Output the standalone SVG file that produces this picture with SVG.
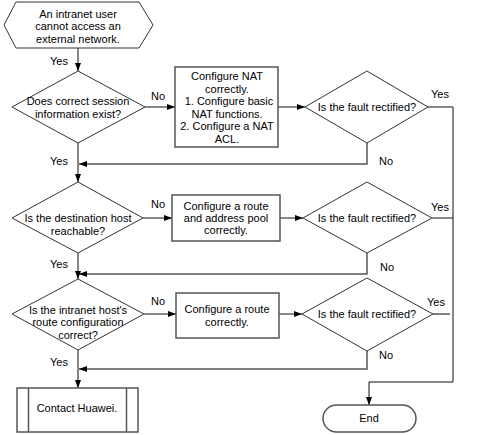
<svg xmlns="http://www.w3.org/2000/svg" width="480" height="435" viewBox="0 0 480 435">
<defs>
<marker id="ah" markerUnits="userSpaceOnUse" markerWidth="9" markerHeight="7" refX="8" refY="3.5" orient="auto">
<path d="M0,0.5 L8,3.5 L0,6.5 z" fill="#000"/>
</marker>
<style>
text{font-family:"Liberation Sans",Arial,sans-serif;font-size:11px;fill:#000;text-anchor:middle}
.sh{fill:#fff;stroke:#333;stroke-width:1}
.bx{fill:#fff;stroke:#555;stroke-width:1.5}
.ln{fill:none;stroke:#111;stroke-width:1}
.rt{fill:none;stroke:#555;stroke-width:1.5}
</style>
</defs>
<rect width="480" height="435" fill="#fff"/>
<g id="connectors">
<path class="ln" d="M78,48 V71" marker-end="url(#ah)"/>
<path class="ln" d="M145,107 H175" marker-end="url(#ah)"/>
<path class="ln" d="M278,107 H305" marker-end="url(#ah)"/>
<path class="ln" d="M428,107 H453 V382 H369 V405" marker-end="url(#ah)"/>
<path class="rt" d="M367,143 V164 H79" marker-end="url(#ah)"/>
<path class="ln" d="M78,143 V182" marker-end="url(#ah)"/>
<path class="ln" d="M143,218 H172" marker-end="url(#ah)"/>
<path class="ln" d="M280,218 H303" marker-end="url(#ah)"/>
<path class="ln" d="M432,218 H453"/>
<path class="rt" d="M367,253 V274 H79" marker-end="url(#ah)"/>
<path class="ln" d="M78,253 V279" marker-end="url(#ah)"/>
<path class="ln" d="M144,314 H176" marker-end="url(#ah)"/>
<path class="ln" d="M279,314 H302" marker-end="url(#ah)"/>
<path class="rt" d="M433,314 H450"/>
<path class="rt" d="M367,351 V369 H79" marker-end="url(#ah)"/>
<path class="ln" d="M78,350 V388" marker-end="url(#ah)"/>
<text x="59" y="65">Yes</text>
<text x="158" y="100">No</text>
<text x="440" y="97.5">Yes</text>
<text x="386" y="164.5">No</text>
<text x="59" y="164.5">Yes</text>
<text x="158" y="207.5">No</text>
<text x="440" y="210.5">Yes</text>
<text x="387" y="271">No</text>
<text x="59" y="267.5">Yes</text>
<text x="158" y="304.5">No</text>
<text x="436" y="306">Yes</text>
<text x="386" y="358.5">No</text>
<text x="59" y="366">Yes</text>
</g>
<g id="start">
<polygon class="sh" points="4,25 16,2 139,2 153,25 139,48 16,48"/>
<text x="78" y="17.5">An intranet user</text>
<text x="78" y="30">cannot access an</text>
<text x="78" y="43">external network.</text>
</g>
<g id="d1">
<polygon class="sh" points="78,71 145,107 78,143 12,107"/>
<text x="78" y="105">Does correct session</text>
<text x="78" y="117.5">information exist?</text>
</g>
<g id="b1">
<rect class="bx" x="175" y="67" width="103" height="80"/>
<text x="227" y="80">Configure NAT</text>
<text x="227" y="92.5">correctly.</text>
<text x="229" y="105">1. Configure basic</text>
<text x="227" y="117.5">NAT functions.</text>
<text x="227" y="130">2. Configure a NAT</text>
<text x="227" y="142.5">ACL.</text>
</g>
<g id="d2">
<polygon class="sh" points="367,71 428,107 367,143 305,107"/>
<text x="367" y="111">Is the fault rectified?</text>
</g>
<g id="d3">
<polygon class="sh" points="78,182 143,218 78,253 12,218"/>
<text x="78" y="222">Is the destination host</text>
<text x="78" y="234.5">reachable?</text>
</g>
<g id="b2">
<rect class="bx" x="172" y="195" width="108" height="46"/>
<text x="226" y="209.5">Configure a route</text>
<text x="226" y="221.5">and address pool</text>
<text x="226" y="234">correctly.</text>
</g>
<g id="d4">
<polygon class="sh" points="367,182 432,218 367,253 303,218"/>
<text x="367" y="222">Is the fault rectified?</text>
</g>
<g id="d5">
<polygon class="sh" points="78,279 144,314 78,350 12,314"/>
<text x="78" y="313.5">Is the intranet host's</text>
<text x="78" y="326">route configuration</text>
<text x="78" y="338.5">correct?</text>
</g>
<g id="b3">
<rect class="bx" x="176" y="293" width="103" height="45"/>
<text x="227" y="312.5">Configure a route</text>
<text x="227" y="326">correctly.</text>
</g>
<g id="d6">
<polygon class="sh" points="367,278 433,314 367,351 302,314"/>
<text x="367" y="317.5">Is the fault rectified?</text>
</g>
<g id="contact">
<rect class="bx" x="17" y="388" width="121" height="44"/>
<line class="bx" x1="28.5" y1="388" x2="28.5" y2="432"/>
<line class="bx" x1="126.5" y1="388" x2="126.5" y2="432"/>
<text x="77" y="412">Contact Huawei.</text>
</g>
<g id="end">
<rect class="bx" x="323" y="405" width="93" height="27" rx="13.5"/>
<text x="369" y="422">End</text>
</g>
</svg>
